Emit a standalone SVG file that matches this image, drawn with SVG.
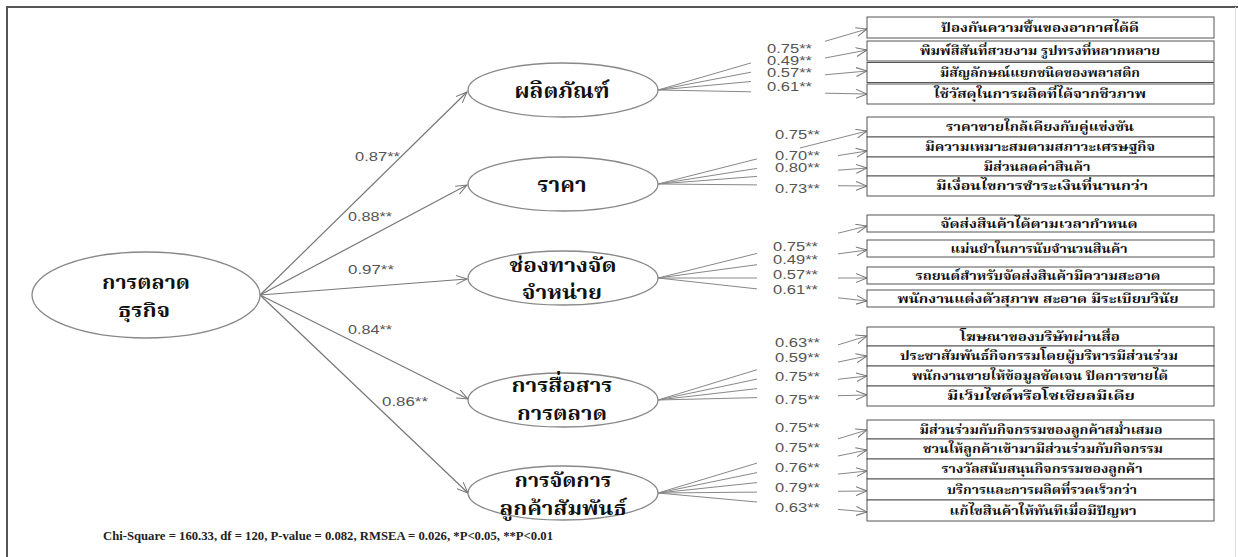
<svg xmlns="http://www.w3.org/2000/svg" width="1238" height="557" viewBox="0 0 1238 557">
<defs>
<marker id="arr" markerUnits="userSpaceOnUse" markerWidth="12" markerHeight="10" refX="11" refY="5" orient="auto">
<path d="M0,0.5 L11,5 L0,9.5" fill="none" stroke="#777" stroke-width="1"/>
</marker>
<style>
.th{font-family:"Noto Serif Thai","Noto Sans Thai","Liberation Serif",serif;font-weight:bold;fill:#111;text-anchor:middle}
.big{font-size:22px}
.two{font-size:20px}
.box{font-size:12px}
.num{font-family:"Liberation Sans",Arial,sans-serif;font-size:12px;fill:#555}
.ell{fill:#fff;stroke:#888;stroke-width:1.3}
.rect{fill:#fff;stroke:#555;stroke-width:1}
.ln{fill:none;stroke:#888;stroke-width:1}
.sl{fill:none;stroke:#777;stroke-width:1.2}
</style>
</defs>
<rect x="0" y="0" width="1238" height="557" fill="#fff"/>
<g id="frame">
<path d="M7,557 V7 H1238" fill="none" stroke="#555" stroke-width="2"/>
<path d="M1235.5,7 V557" fill="none" stroke="#ddd" stroke-width="1"/>
</g>
<g id="connectors">
<path class="sl" d="M260,295 L467,92" marker-end="url(#arr)"/>
<path class="sl" d="M260,295 L467,185" marker-end="url(#arr)"/>
<path class="sl" d="M260,295 L467,279" marker-end="url(#arr)"/>
<path class="sl" d="M260,295 L468,399" marker-end="url(#arr)"/>
<path class="sl" d="M260,295 L468,493" marker-end="url(#arr)"/>
<path class="ln" d="M658,90 L751,62.9 M825,41.3 L867,29" marker-end="url(#arr)"/>
<path class="ln" d="M658,90 L751,72.2 M825,58 L867,50" marker-end="url(#arr)"/>
<path class="ln" d="M658,90 L751,81.5 M825,74.8 L867,71" marker-end="url(#arr)"/>
<path class="ln" d="M658,90 L751,91.8 M825,93.2 L867,94" marker-end="url(#arr)"/>
<path class="ln" d="M658,184 L757,158.9 M800,148 L867,131" marker-end="url(#arr)"/>
<path class="ln" d="M658,184 L757,168.4 M838,155.6 L867,151" marker-end="url(#arr)"/>
<path class="ln" d="M658,184 L757,176.4 M838,170.2 L867,168" marker-end="url(#arr)"/>
<path class="ln" d="M658,184 L757,184.9 M838,185.7 L867,186" marker-end="url(#arr)"/>
<path class="ln" d="M658,278 L757,253.4 M838,233.2 L867,226" marker-end="url(#arr)"/>
<path class="ln" d="M658,278 L757,264.7 M838,253.9 L867,250" marker-end="url(#arr)"/>
<path class="ln" d="M658,278 L757,278 M838,278 L867,278" marker-end="url(#arr)"/>
<path class="ln" d="M658,278 L757,288.9 M838,297.8 L867,301" marker-end="url(#arr)"/>
<path class="ln" d="M658,400 L757,369.7 M838,344.9 L867,336" marker-end="url(#arr)"/>
<path class="ln" d="M658,400 L757,379.1 M838,362.1 L867,356" marker-end="url(#arr)"/>
<path class="ln" d="M658,400 L757,388.6 M838,379.3 L867,376" marker-end="url(#arr)"/>
<path class="ln" d="M658,400 L757,397.6 M838,395.7 L867,395" marker-end="url(#arr)"/>
<path class="ln" d="M658,493 L757,463.1 M838,438.8 L867,430" marker-end="url(#arr)"/>
<path class="ln" d="M658,493 L757,472.6 M838,456 L867,450" marker-end="url(#arr)"/>
<path class="ln" d="M658,493 L757,482.6 M838,474.1 L867,471" marker-end="url(#arr)"/>
<path class="ln" d="M658,493 L757,492.1 M838,491.3 L867,491" marker-end="url(#arr)"/>
<path class="ln" d="M658,493 L757,502 M838,509.4 L867,512" marker-end="url(#arr)"/>
</g>
<g id="path-labels">
<text class="num" x="355" y="161" textLength="45" lengthAdjust="spacingAndGlyphs">0.87**</text>
<text class="num" x="348" y="221" textLength="44" lengthAdjust="spacingAndGlyphs">0.88**</text>
<text class="num" x="348" y="274" textLength="46" lengthAdjust="spacingAndGlyphs">0.97**</text>
<text class="num" x="348" y="334" textLength="44" lengthAdjust="spacingAndGlyphs">0.84**</text>
<text class="num" x="382" y="406" textLength="46" lengthAdjust="spacingAndGlyphs">0.86**</text>
<text class="num" x="767" y="53" textLength="45" lengthAdjust="spacingAndGlyphs">0.75**</text>
<text class="num" x="767" y="65" textLength="45" lengthAdjust="spacingAndGlyphs">0.49**</text>
<text class="num" x="767" y="77" textLength="45" lengthAdjust="spacingAndGlyphs">0.57**</text>
<text class="num" x="767" y="91" textLength="45" lengthAdjust="spacingAndGlyphs">0.61**</text>
<text class="num" x="775" y="139" textLength="45" lengthAdjust="spacingAndGlyphs">0.75**</text>
<text class="num" x="775" y="160" textLength="45" lengthAdjust="spacingAndGlyphs">0.70**</text>
<text class="num" x="775" y="172" textLength="45" lengthAdjust="spacingAndGlyphs">0.80**</text>
<text class="num" x="775" y="193" textLength="45" lengthAdjust="spacingAndGlyphs">0.73**</text>
<text class="num" x="773" y="251" textLength="45" lengthAdjust="spacingAndGlyphs">0.75**</text>
<text class="num" x="773" y="264" textLength="45" lengthAdjust="spacingAndGlyphs">0.49**</text>
<text class="num" x="773" y="279" textLength="45" lengthAdjust="spacingAndGlyphs">0.57**</text>
<text class="num" x="773" y="294" textLength="45" lengthAdjust="spacingAndGlyphs">0.61**</text>
<text class="num" x="775" y="347" textLength="45" lengthAdjust="spacingAndGlyphs">0.63**</text>
<text class="num" x="775" y="362" textLength="45" lengthAdjust="spacingAndGlyphs">0.59**</text>
<text class="num" x="775" y="381" textLength="45" lengthAdjust="spacingAndGlyphs">0.75**</text>
<text class="num" x="775" y="404" textLength="45" lengthAdjust="spacingAndGlyphs">0.75**</text>
<text class="num" x="775" y="432" textLength="45" lengthAdjust="spacingAndGlyphs">0.75**</text>
<text class="num" x="775" y="452" textLength="45" lengthAdjust="spacingAndGlyphs">0.75**</text>
<text class="num" x="775" y="472" textLength="45" lengthAdjust="spacingAndGlyphs">0.76**</text>
<text class="num" x="775" y="492" textLength="45" lengthAdjust="spacingAndGlyphs">0.79**</text>
<text class="num" x="775" y="512" textLength="45" lengthAdjust="spacingAndGlyphs">0.63**</text>
</g>
<g id="node-main">
<ellipse class="ell" cx="146" cy="295" rx="114" ry="43"/>
<text class="th two" x="146" y="289" textLength="88" lengthAdjust="spacingAndGlyphs">การตลาด</text>
<text class="th two" x="144" y="317" textLength="52" lengthAdjust="spacingAndGlyphs">ธุรกิจ</text>
</g>
<g id="node-product">
<ellipse class="ell" cx="563" cy="90" rx="95" ry="27"/>
<text class="th big" x="562" y="98" textLength="95" lengthAdjust="spacingAndGlyphs">ผลิตภัณฑ์</text>
</g>
<g id="node-price">
<ellipse class="ell" cx="563" cy="184" rx="95" ry="27"/>
<text class="th big" x="562" y="192" textLength="49" lengthAdjust="spacingAndGlyphs">ราคา</text>
</g>
<g id="node-place">
<ellipse class="ell" cx="563" cy="278" rx="95" ry="27"/>
<text class="th two" x="563" y="272" textLength="107" lengthAdjust="spacingAndGlyphs">ช่องทางจัด</text>
<text class="th two" x="562" y="299" textLength="80" lengthAdjust="spacingAndGlyphs">จำหน่าย</text>
</g>
<g id="node-promotion">
<ellipse class="ell" cx="563" cy="400" rx="95" ry="27"/>
<text class="th two" x="562" y="392" textLength="101" lengthAdjust="spacingAndGlyphs">การสื่อสาร</text>
<text class="th two" x="562" y="420" textLength="90" lengthAdjust="spacingAndGlyphs">การตลาด</text>
</g>
<g id="node-crm">
<ellipse class="ell" cx="563" cy="493" rx="95" ry="27"/>
<text class="th two" x="563" y="487" textLength="97" lengthAdjust="spacingAndGlyphs">การจัดการ</text>
<text class="th two" x="563" y="515" textLength="127" lengthAdjust="spacingAndGlyphs">ลูกค้าสัมพันธ์</text>
</g>
<g id="items-product">
<rect class="rect" x="867" y="17" width="347" height="21"/>
<text class="th box" x="1040" y="32" textLength="198" lengthAdjust="spacingAndGlyphs">ป้องกันความชื้นของอากาศได้ดี</text>
<rect class="rect" x="867" y="41" width="347" height="20"/>
<text class="th box" x="1040" y="55" textLength="240" lengthAdjust="spacingAndGlyphs">พิมพ์สีสันที่สวยงาม รูปทรงที่หลากหลาย</text>
<rect class="rect" x="867" y="62.5" width="347" height="20"/>
<text class="th box" x="1040" y="77" textLength="200" lengthAdjust="spacingAndGlyphs">มีสัญลักษณ์แยกชนิดของพลาสติก</text>
<rect class="rect" x="867" y="84" width="347" height="20"/>
<text class="th box" x="1040" y="98" textLength="212" lengthAdjust="spacingAndGlyphs">ใช้วัสดุในการผลิตที่ได้จากชีวภาพ</text>
</g>
<g id="items-price">
<rect class="rect" x="867" y="117" width="347" height="20"/>
<text class="th box" x="1040" y="131" textLength="188" lengthAdjust="spacingAndGlyphs">ราคาขายใกล้เคียงกับคู่แข่งขัน</text>
<rect class="rect" x="867" y="137" width="347" height="20"/>
<text class="th box" x="1040" y="151" textLength="230" lengthAdjust="spacingAndGlyphs">มีความเหมาะสมตามสภาวะเศรษฐกิจ</text>
<rect class="rect" x="867" y="157" width="347" height="19"/>
<text class="th box" x="1037" y="171" textLength="107" lengthAdjust="spacingAndGlyphs">มีส่วนลดค่าสินค้า</text>
<rect class="rect" x="867" y="176" width="347" height="20"/>
<text class="th box" x="1042" y="190" textLength="212" lengthAdjust="spacingAndGlyphs">มีเงื่อนไขการชำระเงินที่นานกว่า</text>
</g>
<g id="items-place">
<rect class="rect" x="867" y="215" width="347" height="17"/>
<text class="th box" x="1039" y="228" textLength="197" lengthAdjust="spacingAndGlyphs">จัดส่งสินค้าได้ตามเวลากำหนด</text>
<rect class="rect" x="867" y="240" width="347" height="17"/>
<text class="th box" x="1039" y="253" textLength="177" lengthAdjust="spacingAndGlyphs">แม่นยำในการนับจำนวนสินค้า</text>
<rect class="rect" x="867" y="267" width="347" height="17"/>
<text class="th box" x="1038" y="280" textLength="245" lengthAdjust="spacingAndGlyphs">รถยนต์สำหรับจัดส่งสินค้ามีความสะอาด</text>
<rect class="rect" x="867" y="290" width="347" height="17"/>
<text class="th box" x="1038" y="303" textLength="281" lengthAdjust="spacingAndGlyphs">พนักงานแต่งตัวสุภาพ สะอาด มีระเบียบวินัย</text>
</g>
<g id="items-promotion">
<rect class="rect" x="867" y="327" width="347" height="19"/>
<text class="th box" x="1040" y="341" textLength="160" lengthAdjust="spacingAndGlyphs">โฆษณาของบริษัทผ่านสื่อ</text>
<rect class="rect" x="867" y="346" width="347" height="20"/>
<text class="th box" x="1039" y="360" textLength="278" lengthAdjust="spacingAndGlyphs">ประชาสัมพันธ์กิจกรรมโดยผู้บริหารมีส่วนร่วม</text>
<rect class="rect" x="867" y="366" width="347" height="20"/>
<text class="th box" x="1040" y="380" textLength="256" lengthAdjust="spacingAndGlyphs">พนักงานขายให้ข้อมูลชัดเจน ปิดการขายได้</text>
<rect class="rect" x="867" y="386" width="347" height="20"/>
<text class="th box" x="1041" y="400" textLength="188" lengthAdjust="spacingAndGlyphs">มีเว็บไซต์หรือโซเชียลมีเดีย</text>
</g>
<g id="items-crm">
<rect class="rect" x="867" y="420" width="347" height="19"/>
<text class="th box" x="1041" y="434" textLength="243" lengthAdjust="spacingAndGlyphs">มีส่วนร่วมกับกิจกรรมของลูกค้าสม่ำเสมอ</text>
<rect class="rect" x="867" y="439" width="347" height="20"/>
<text class="th box" x="1043" y="453" textLength="240" lengthAdjust="spacingAndGlyphs">ชวนให้ลูกค้าเข้ามามีส่วนร่วมกับกิจกรรม</text>
<rect class="rect" x="867" y="459" width="347" height="20"/>
<text class="th box" x="1042" y="473" textLength="201" lengthAdjust="spacingAndGlyphs">รางวัลสนับสนุนกิจกรรมของลูกค้า</text>
<rect class="rect" x="867" y="479" width="347" height="21"/>
<text class="th box" x="1042" y="494" textLength="190" lengthAdjust="spacingAndGlyphs">บริการและการผลิตที่รวดเร็วกว่า</text>
<rect class="rect" x="867" y="500" width="347" height="21"/>
<text class="th box" x="1043" y="515" textLength="187" lengthAdjust="spacingAndGlyphs">แก้ไขสินค้าให้ทันทีเมื่อมีปัญหา</text>
</g>
<g id="footnote">
<text x="103" y="540" font-family="'Liberation Serif','Times New Roman',serif" font-weight="bold" font-size="12" fill="#222" textLength="450" lengthAdjust="spacingAndGlyphs">Chi-Square = 160.33, df = 120, P-value = 0.082, RMSEA = 0.026, *P&lt;0.05, **P&lt;0.01</text>
</g>
</svg>
